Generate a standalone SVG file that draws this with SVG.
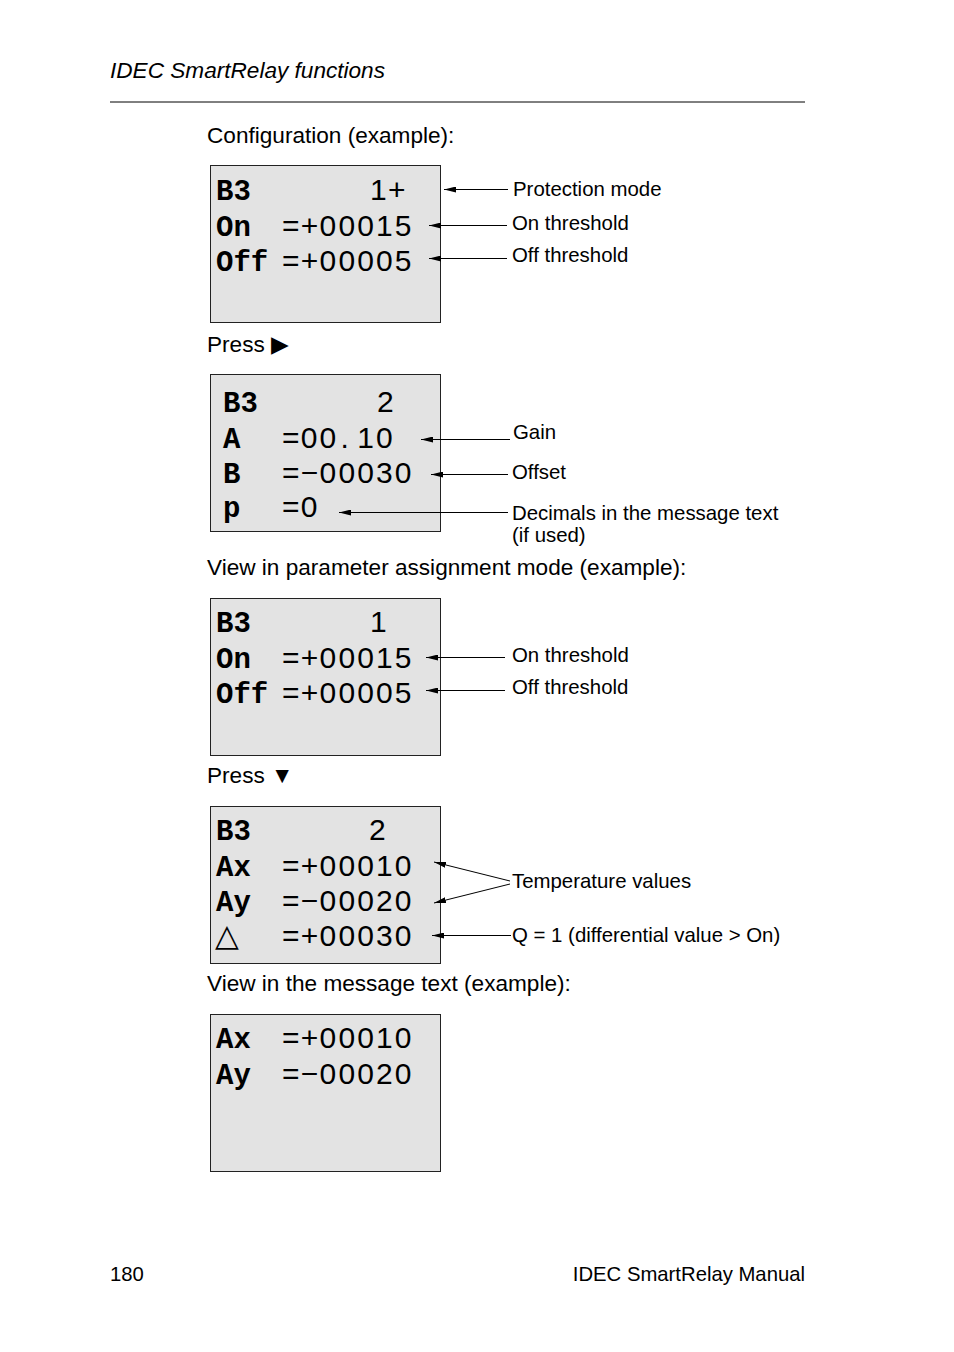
<svg xmlns="http://www.w3.org/2000/svg" width="954" height="1352" viewBox="0 0 954 1352">
<style>
.t{font-family:"Liberation Sans",Arial,sans-serif;font-size:22.6px;fill:#000}
.f{font-family:"Liberation Sans",Arial,sans-serif;font-size:20.3px;fill:#000}
.a{font-family:"Liberation Sans",Arial,sans-serif;font-size:20.4px;fill:#000}
.box{fill:#e3e3e3;stroke:#222;stroke-width:1}
.k{font-family:"Liberation Mono","Courier New",monospace;font-weight:bold;font-size:29px;fill:#000}
.v{font-family:"Liberation Sans",Arial,sans-serif;font-size:30px;fill:#000}
.ln{stroke:#000;stroke-width:1;fill:none;marker-end:url(#ah)}
</style>
<defs>
<marker id="ah" viewBox="0 0 12 6" refX="12" refY="3" markerWidth="12" markerHeight="6" markerUnits="userSpaceOnUse" orient="auto">
<path d="M0,0 L12,3 L0,6 Z" fill="#000"/>
</marker>
</defs>
<rect width="954" height="1352" fill="#fff"/>
<text x="110" y="78" class="t" font-style="italic" font-size="22.8px">IDEC SmartRelay functions</text>
<line x1="110" y1="102" x2="805" y2="102" stroke="#000" stroke-width="1"/>
<text x="207" y="143" class="t">Configuration (example):</text>
<text x="207" y="352" class="t">Press ▶</text>
<text x="207" y="575" class="t">View in parameter assignment mode (example):</text>
<text x="207" y="783" class="t">Press ▼</text>
<text x="207" y="991" class="t">View in the message text (example):</text>
<text x="110" y="1281" class="f">180</text>
<text x="805" y="1281" class="f" text-anchor="end">IDEC SmartRelay Manual</text>

<g id="box1">
<rect x="210.5" y="165.5" width="230" height="157" class="box"/>
<text x="216" y="200" class="k">B3</text>
<text x="370 388" y="200" class="v">1+</text>
<text x="216" y="236" class="k">On</text>
<text x="282 300.8 319.6 338.4 357.2 376 394.8" y="236" class="v">=+00015</text>
<text x="216" y="271" class="k">Off</text>
<text x="282 300.8 319.6 338.4 357.2 376 394.8" y="271" class="v">=+00005</text>
</g>
<g id="box2">
<rect x="210.5" y="374.5" width="230" height="157" class="box"/>
<text x="223" y="412" class="k">B3</text>
<text x="377" y="412" class="v">2</text>
<text x="223" y="448" class="k">A</text>
<text x="282 300.8 319.6 340.4 357.2 376" y="448" class="v">=00.10</text>
<text x="223" y="483" class="k">B</text>
<text x="282 300.8 319.6 338.4 357.2 376 394.8" y="483" class="v">=−00030</text>
<text x="223" y="517" class="k">p</text>
<text x="282 300.8" y="517" class="v">=0</text>
</g>
<g id="box3">
<rect x="210.5" y="598.5" width="230" height="157" class="box"/>
<text x="216" y="632" class="k">B3</text>
<text x="370" y="632" class="v">1</text>
<text x="216" y="668" class="k">On</text>
<text x="282 300.8 319.6 338.4 357.2 376 394.8" y="668" class="v">=+00015</text>
<text x="216" y="703" class="k">Off</text>
<text x="282 300.8 319.6 338.4 357.2 376 394.8" y="703" class="v">=+00005</text>
</g>
<g id="box4">
<rect x="210.5" y="806.5" width="230" height="157" class="box"/>
<text x="216" y="840" class="k">B3</text>
<text x="369" y="840" class="v">2</text>
<text x="216" y="876" class="k">Ax</text>
<text x="282 300.8 319.6 338.4 357.2 376 394.8" y="876" class="v">=+00010</text>
<text x="216" y="911" class="k">Ay</text>
<text x="282 300.8 319.6 338.4 357.2 376 394.8" y="911" class="v">=−00020</text>
<text x="215" y="946" font-family="DejaVu Sans,sans-serif" font-size="31px">△</text>
<text x="282 300.8 319.6 338.4 357.2 376 394.8" y="946" class="v">=+00030</text>
</g>
<g id="box5">
<rect x="210.5" y="1014.5" width="230" height="157" class="box"/>
<text x="216" y="1048" class="k">Ax</text>
<text x="282 300.8 319.6 338.4 357.2 376 394.8" y="1048" class="v">=+00010</text>
<text x="216" y="1084" class="k">Ay</text>
<text x="282 300.8 319.6 338.4 357.2 376 394.8" y="1084" class="v">=−00020</text>
</g>

<g id="labels">
<text x="513" y="196" class="a">Protection mode</text>
<text x="512" y="230" class="a">On threshold</text>
<text x="512" y="262" class="a">Off threshold</text>
<text x="513" y="439" class="a">Gain</text>
<text x="512" y="479" class="a">Offset</text>
<text x="512" y="520" class="a">Decimals in the message text</text>
<text x="512" y="542" class="a">(if used)</text>
<text x="512" y="662" class="a">On threshold</text>
<text x="512" y="694" class="a">Off threshold</text>
<text x="512" y="888" class="a">Temperature values</text>
<text x="512" y="942" class="a">Q = 1 (differential value &gt; On)</text>
</g>

<g id="connectors">
<line x1="508" y1="189.5" x2="444" y2="189.5" class="ln"/>
<line x1="507" y1="225.5" x2="429" y2="225.5" class="ln"/>
<line x1="507" y1="258.5" x2="429" y2="258.5" class="ln"/>
<line x1="510" y1="439.5" x2="421" y2="439.5" class="ln"/>
<line x1="508" y1="474.5" x2="431" y2="474.5" class="ln"/>
<line x1="508" y1="512.5" x2="339" y2="512.5" class="ln"/>
<line x1="505" y1="657.5" x2="426" y2="657.5" class="ln"/>
<line x1="505" y1="690.5" x2="426" y2="690.5" class="ln"/>
<line x1="510" y1="881" x2="434" y2="862" class="ln"/>
<line x1="510" y1="884" x2="434" y2="903" class="ln"/>
<line x1="511" y1="935.5" x2="432" y2="935.5" class="ln"/>
</g>
</svg>
